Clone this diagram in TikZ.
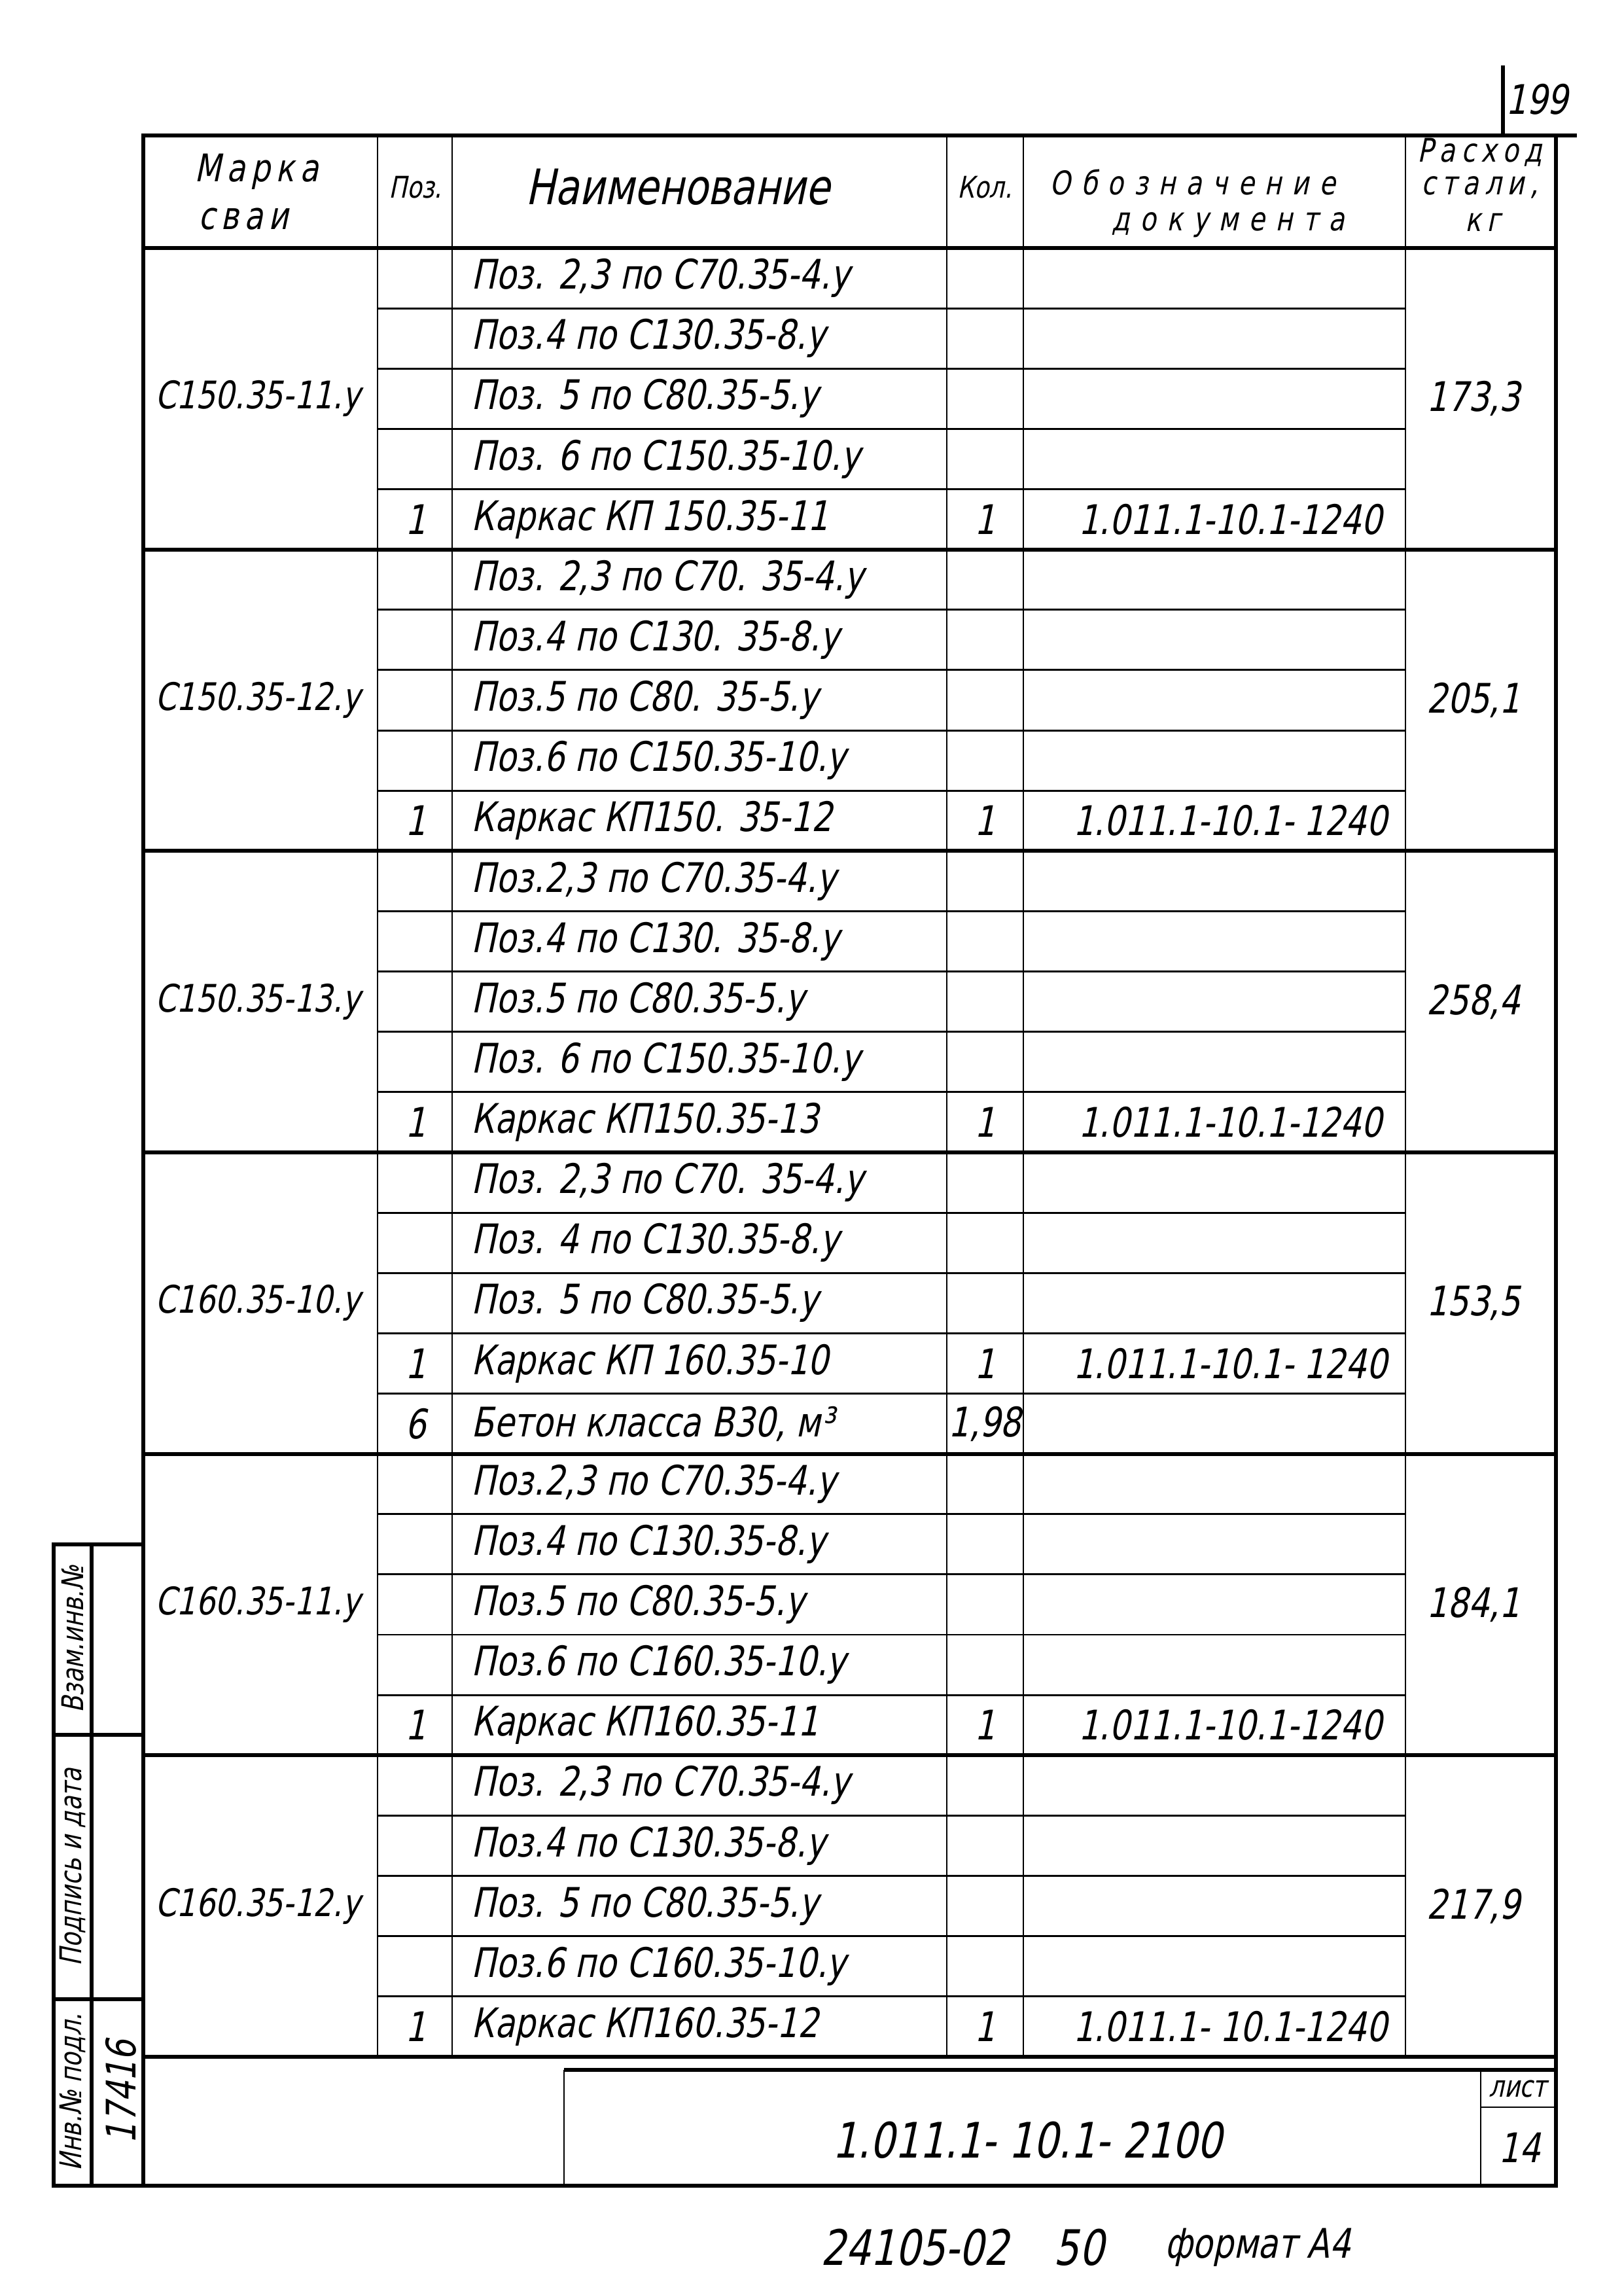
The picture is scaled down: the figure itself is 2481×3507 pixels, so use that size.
\documentclass[tikz,border=0pt]{standalone}
\usepackage{fontspec}
\setmainfont{DejaVu Sans}[FakeStretch=0.8,FakeSlant=0.21]
\usetikzlibrary{positioning}

\tikzset{
  rule/.style={line width=0.7pt},
  frame/.style={line width=1.5pt},
  txt/.style={inner sep=0pt,font=\fontsize{15}{15}\selectfont},
  small/.style={inner sep=0pt,font=\fontsize{11}{11}\selectfont},
  big/.style={inner sep=0pt,font=\fontsize{18}{18}\selectfont},
  spaced/.style={inner sep=0pt,font=\fontsize{14}{14}\selectfont\addfontfeatures{LetterSpace=15}},
  narrow/.style={inner sep=0pt,font=\fontsize{12}{12}\selectfont\addfontfeatures{LetterSpace=18}},
  docword/.style={inner sep=0pt,font=\fontsize{12}{12}\selectfont\addfontfeatures{LetterSpace=32}},
}

\begin{document}
\begin{tikzpicture}[x=0.08464mm,y=-0.08464mm]
\useasboundingbox (0,0) rectangle (2481,3507);

% frame and header
\draw[frame] (219,207) rectangle (2378,3340);
\draw[frame] (2378,207) -- (2410,207);
\draw[frame] (219,379) -- (2378,379);
\draw[frame] (219,3143) -- (2378,3143);
\foreach \x in {577,691,1447,1564,2148}
  \draw[rule] (\x,207) -- (\x,3143);
\foreach \k in {1,...,29}{
  \pgfmathsetmacro\y{379+92.13*\k}
  \pgfmathtruncatemacro\r{mod(\k,5)}
  \ifnum\r=0 \draw[frame] (219,\y) -- (2378,\y); \else \draw[rule] (577,\y) -- (2148,\y); \fi
}

\node at(392,262)[spaced](hm1){Марка};
\node at(372,335)[spaced](hm2){сваи};
\node at(635,286)[small](hp){Поз.};
\node at(1036,286)[big](hn){Наименование};
\node at(1505,286)[small](hq){Кол.};
\node at(1823,278)[docword](hd1){Обозначение};
\node at(1877,344)[docword](hd2){документа};
\node at(2262,233)[narrow](hs1){Расход};
\node at(2262,286)[narrow](hs2){стали,};
\node at(2266,340)[narrow](hs3){кг};

% rows
\foreach \p/\t/\q/\d [count=\i from 0] in {
  {}/{Поз. 2,3 по С70.35-4.у}/{}/{},
  {}/{Поз.4 по С130.35-8.у}/{}/{},
  {}/{Поз. 5 по С80.35-5.у}/{}/{},
  {}/{Поз. 6 по С150.35-10.у}/{}/{},
  1/{Каркас КП 150.35-11}/1/{1.011.1-10.1-1240},
  {}/{Поз. 2,3 по С70. 35-4.у}/{}/{},
  {}/{Поз.4 по С130. 35-8.у}/{}/{},
  {}/{Поз.5 по С80. 35-5.у}/{}/{},
  {}/{Поз.6 по С150.35-10.у}/{}/{},
  1/{Каркас КП150. 35-12}/1/{1.011.1-10.1- 1240},
  {}/{Поз.2,3 по С70.35-4.у}/{}/{},
  {}/{Поз.4 по С130. 35-8.у}/{}/{},
  {}/{Поз.5 по С80.35-5.у}/{}/{},
  {}/{Поз. 6 по С150.35-10.у}/{}/{},
  1/{Каркас КП150.35-13}/1/{1.011.1-10.1-1240},
  {}/{Поз. 2,3 по С70. 35-4.у}/{}/{},
  {}/{Поз. 4 по С130.35-8.у}/{}/{},
  {}/{Поз. 5 по С80.35-5.у}/{}/{},
  1/{Каркас КП 160.35-10}/1/{1.011.1-10.1- 1240},
  6/{Бетон класса В30, м³}/{1,98}/{},
  {}/{Поз.2,3 по С70.35-4.у}/{}/{},
  {}/{Поз.4 по С130.35-8.у}/{}/{},
  {}/{Поз.5 по С80.35-5.у}/{}/{},
  {}/{Поз.6 по С160.35-10.у}/{}/{},
  1/{Каркас КП160.35-11}/1/{1.011.1-10.1-1240},
  {}/{Поз. 2,3 по С70.35-4.у}/{}/{},
  {}/{Поз.4 по С130.35-8.у}/{}/{},
  {}/{Поз. 5 по С80.35-5.у}/{}/{},
  {}/{Поз.6 по С160.35-10.у}/{}/{},
  1/{Каркас КП160.35-12}/1/{1.011.1- 10.1-1240}
}{
  \pgfmathsetmacro\y{379+92.13*(\i+0.5)}
  \node at(635,\y)[txt](p\i){\p};
  \node at(720,\y)[txt,anchor=west](n\i){\t};
  \node at(1505,\y)[txt](q\i){\q};
  \node at(1880,\y)[txt](d\i){\d};
}

% marks and steel
\foreach \m/\s [count=\g from 0] in {
  С150.35-11.у/{173,3},
  С150.35-12.у/{205,1},
  С150.35-13.у/{258,4},
  С160.35-10.у/{153,5},
  С160.35-11.у/{184,1},
  С160.35-12.у/{217,9}
}{
  \pgfmathsetmacro\y{379+92.13*(5*\g+2.5)}
  \node at(394,\y)[txt,font=\fontsize{14}{14}\selectfont](m\g){\m};
  \node at(2252,\y)[txt](s\g){\s};
}

% side stamp
\draw[frame] (219,2360) -- (82,2360) -- (82,3340) -- (219,3340);
\draw[frame] (140,2360) -- (140,3340);
\draw[frame] (82,2651) -- (219,2651);
\draw[frame] (82,3055) -- (219,3055);
\node at(111,2505)[small,rotate=90](vzam){Взам.инв.№};
\node at(111,2853)[small,rotate=90](podp){Подпись и дата};
\node at(111,3197)[small,rotate=90](inv){Инв.№ подл.};
\node at(185,3197)[txt,rotate=90](invno){17416};

% page number
\draw[frame] (2297,100) -- (2297,207);
\node at(2349,152)[txt](page){199};

% title block
\draw[frame] (862,3163) -- (2378,3163);
\draw[rule] (862,3163) -- (862,3340);
\draw[rule] (2263,3163) -- (2263,3340);
\draw[rule] (2263,3220) -- (2378,3220);
\node at(1570,3270)[big](code){1.011.1- 10.1- 2100};
\node at(2320,3192)[small](list){лист};
\node at(2322,3282)[txt](sheet){14};
\node at(1398,3434)[big](ord){24105-02};
\node at(1649,3434)[big](fifty){50};
\node at(1922,3434)[txt](fmt){формат А4};
\end{tikzpicture}
\end{document}
